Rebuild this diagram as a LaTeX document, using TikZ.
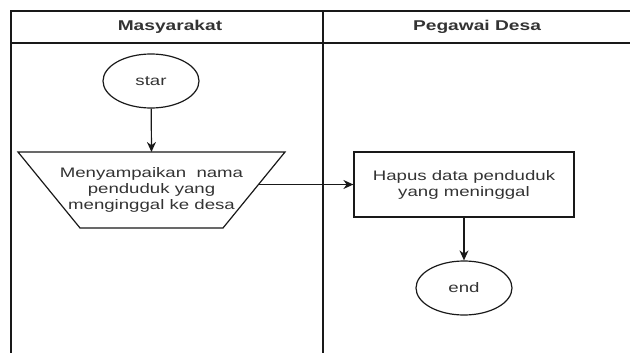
\documentclass[tikz,border=0pt]{standalone}
\usepackage{fontspec}
\setmainfont{Liberation Sans}[FakeStretch=1.35]
\usetikzlibrary{arrows.meta,shapes.geometric}
\begin{document}
\begin{tikzpicture}[x=1pt,y=-1pt,
  line/.style={draw=black!90, line width=1.2pt},
  lbl/.style={text=black!80, font=\fontsize{13.8}{16}\selectfont, align=center, inner sep=0pt},
  hdr/.style={text=black!80, font=\fontsize{14.2}{16}\selectfont\bfseries, inner sep=0pt},
  term/.style={ellipse, draw=black!90, line width=1.2pt, minimum width=96pt, minimum height=54pt, inner sep=0pt, text=black!80, font=\fontsize{13.8}{16}\selectfont},
  procbox/.style={rectangle, draw=black!90, line width=1.2pt, minimum width=220pt, minimum height=65pt, inner sep=0pt, text=black!80, font=\fontsize{13.8}{16}\selectfont, align=center},
  flow/.style={line, -{Stealth[length=10pt,width=9pt]}}]
\useasboundingbox (0,0) rectangle (630,353);
% swimlane frame
\draw[line] (11,360) -- (11,11) -- (640,11);
\draw[line] (11,43) -- (640,43);
\draw[line] (323,11) -- (323,360);
\node[hdr] (h1) at (170,27) {Masyarakat};
\node[hdr] (h2) at (477,27) {Pegawai Desa};
% nodes
\node[term] (star) at (151,81) {star};
\draw[line] (18,152) -- (285,152) -- (223,228) -- (80,228) -- cycle;
\coordinate (trapT) at (151.5,152);
\coordinate (trapR) at (258,184.5);
\node[lbl] (trap) at (151.5,190) {Menyampaikan\ \ nama\\penduduk yang\\menginggal ke desa};
\node[procbox] (hapus) at (464,184.5) {Hapus data penduduk\\yang meninggal};
\node[term] (end) at (464,288) {end};
% connectors
\draw[flow] (star) -- (trapT);
\draw[flow] (trapR) -- (hapus);
\draw[flow] (hapus) -- (end);
\end{tikzpicture}
\end{document}
